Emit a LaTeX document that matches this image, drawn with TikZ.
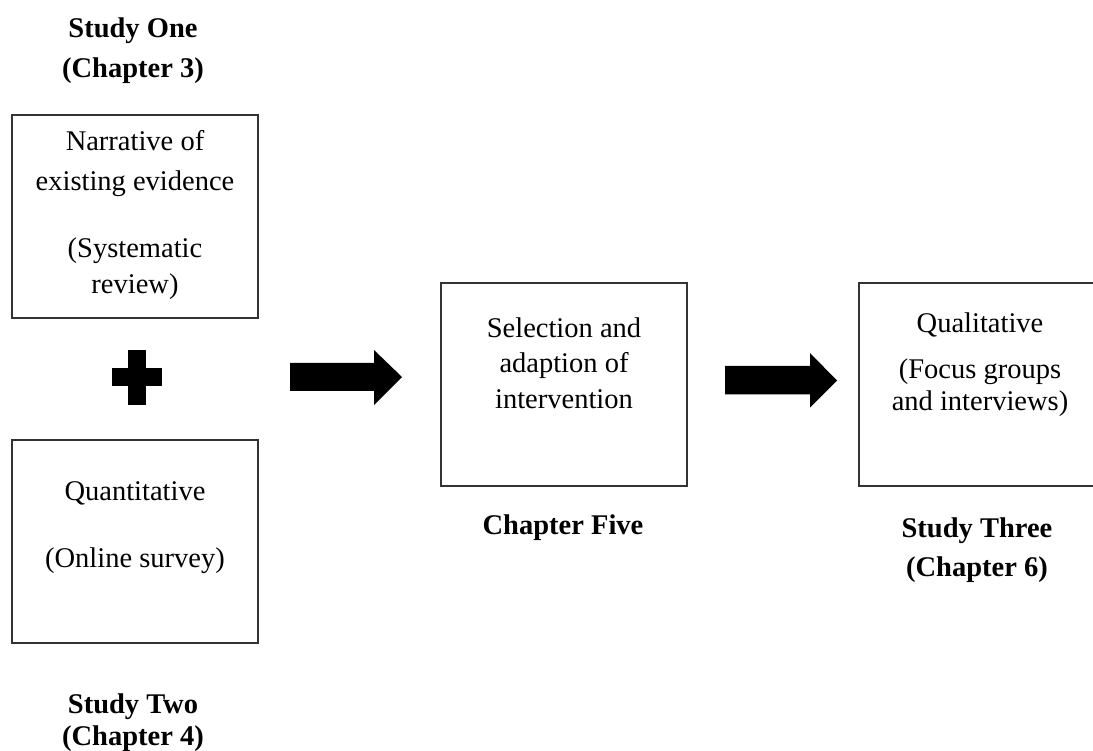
\documentclass[tikz,border=0pt]{standalone}
\usepackage{fontspec}
\setmainfont{Liberation Serif}
\begin{document}
\begin{tikzpicture}[x=1pt,y=-1pt,
  box/.style={draw=black!80, line width=1.6pt, rectangle, inner sep=0pt,
              minimum width=246pt, minimum height=203pt},
  txt/.style={anchor=base, inner sep=0pt, font=\fontsize{28.5}{37}\selectfont},
  lbl/.style={anchor=base, inner sep=0pt, font=\fontsize{28.5}{37}\selectfont\bfseries},
  blockarrow/.style={fill=black}]
\useasboundingbox (0,0) rectangle (1093,751);
\clip (0,0) rectangle (1093,751);

% Boxes
\node[box] (b1) at (135,216.5) {};
\node[box] (b2) at (135,541.5) {};
\node[box] (b3) at (564,384.5) {};
\node[box] (b4) at (982,384.5) {};

% Study One box text
\node[txt] (t11) at (135,151) {Narrative of};
\node[txt] (t12) at (135,191) {existing evidence};
\node[txt] (t13) at (135,258) {(Systematic};
\node[txt] (t14) at (135,294) {review)};

% Study Two box text
\node[txt] (t21) at (135,500) {Quantitative};
\node[txt] (t22) at (135,567) {(Online survey)};

% Chapter Five box text
\node[txt] (t31) at (564,338) {Selection and};
\node[txt] (t32) at (564,373) {adaption of};
\node[txt] (t33) at (564,408) {intervention};

% Study Three box text
\node[txt] (t41) at (980,333) {Qualitative};
\node[txt] (t42) at (980,378) {(Focus groups};
\node[txt] (t43) at (980,410) {and interviews)};

% Captions
\node[lbl] (c11) at (133,38) {Study One};
\node[lbl] (c12) at (133,78) {(Chapter 3)};
\node[lbl] (c21) at (133,713) {Study Two};
\node[lbl] (c22) at (133,745) {(Chapter 4)};
\node[lbl] (c31) at (563,534) {Chapter Five};
\node[lbl] (c41) at (977,537) {Study Three};
\node[lbl] (c42) at (977,576) {(Chapter 6)};

% Plus sign between the two studies
\coordinate (plus) at (137,377.5);
\fill (plus) ++(-25,-9) rectangle ++(50,18);
\fill (plus) ++(-9,-27) rectangle ++(18,55);

% Block arrows
\coordinate (a1) at (290,377);
\coordinate (a2) at (725,380.5);
\fill[blockarrow] (a1) -- ++(0,-14) -- ++(84,0) -- ++(0,-13) -- ++(28,27)
  -- ++(-28,28) -- ++(0,-14) -- ++(-84,0) -- cycle;
\fill[blockarrow] (a2) -- ++(0,-14.5) -- ++(85,0) -- ++(0,-13) -- ++(27,27.5)
  -- ++(-27,27) -- ++(0,-13) -- ++(-85,0) -- cycle;
\end{tikzpicture}
\end{document}
